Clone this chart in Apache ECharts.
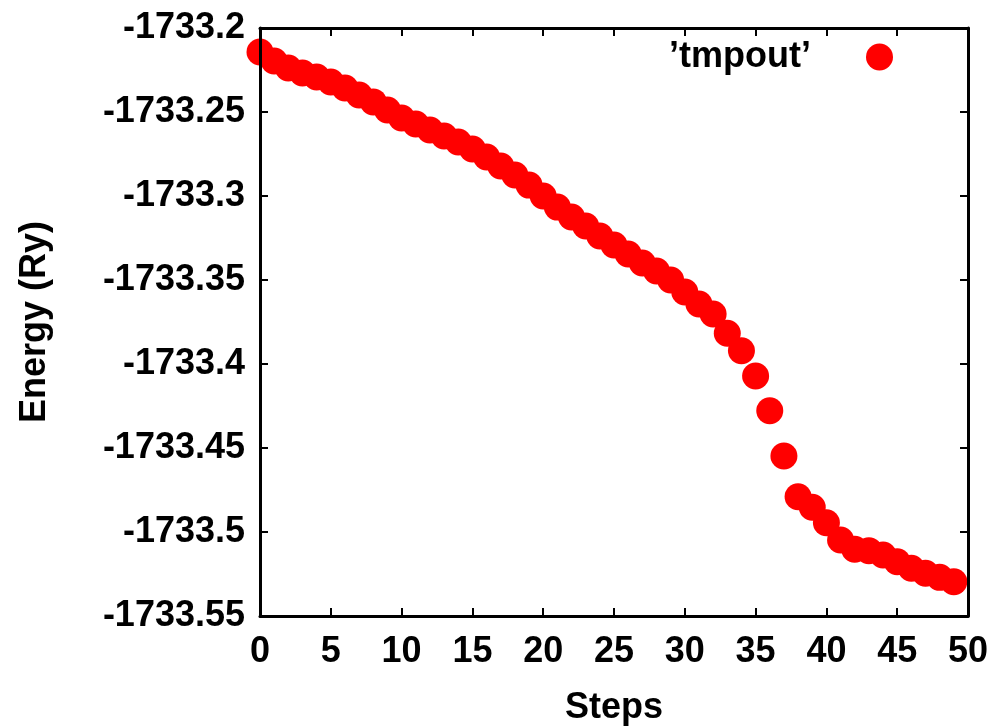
<!DOCTYPE html>
<html>
<head>
<meta charset="utf-8">
<script src="https://cdn.jsdelivr.net/npm/echarts@6/dist/echarts.min.js"></script>
<style>
html,body{margin:0;padding:0;background:#fff;}
#chart{width:997px;height:726px;}
</style>
</head>
<body>
<div id="chart"></div>
<script>
const steps = [0,1,2,3,4,5,6,7,8,9,10,11,12,13,14,15,16,17,18,19,20,21,22,23,24,25,26,27,28,29,30,31,32,33,34,35,36,37,38,39,40,41,42,43,44,45,46,47,48,49];
const energy = [
  -1733.2143,-1733.2196,-1733.2238,-1733.2268,-1733.2292,-1733.2321,-1733.2357,-1733.2399,-1733.2440,-1733.2488,
  -1733.2536,-1733.2571,-1733.2607,-1733.2643,-1733.2679,-1733.2720,-1733.2768,-1733.2821,-1733.2875,-1733.2935,
  -1733.3000,-1733.3066,-1733.3125,-1733.3179,-1733.3238,-1733.3292,-1733.3345,-1733.3399,-1733.3446,-1733.3500,
  -1733.3571,-1733.3643,-1733.3702,-1733.3817,-1733.3921,-1733.4071,-1733.4278,-1733.4548,-1733.4790,-1733.4853,
  -1733.4945,-1733.5048,-1733.5103,-1733.5111,-1733.5137,-1733.5177,-1733.5216,-1733.5246,-1733.5270,-1733.5296
];
const xTicks = [0,5,10,15,20,25,30,35,40,45,50];
const yTicks = ['-1733.55','-1733.5','-1733.45','-1733.4','-1733.35','-1733.3','-1733.25','-1733.2'];
const seriesName = '\u2019tmpout\u2019';
const xTitle = 'Steps';
const yTitle = 'Energy (Ry)';

const FONT = '"Liberation Sans", Arial, sans-serif';
const FS = 36;
const chart = echarts.init(document.getElementById('chart'), null, {renderer:'canvas'});
const lineStyle = {color:'#000', width:3};
const tickStyle = {show:true, inside:true, length:8, lineStyle:{color:'#000', width:2}};
const xMin = xTicks[0], xMax = xTicks[xTicks.length-1], xInt = xTicks[1]-xTicks[0];
const yMin = Number(yTicks[0]), yMax = Number(yTicks[yTicks.length-1]);
const yInt = 0.05;
function yFmt(v){ return String(Number(v.toFixed(2))); }

chart.setOption({
  backgroundColor:'#fff',
  animation:false,
  grid:{left:260, right:29, top:28, bottom:110, containLabel:false, outerBoundsMode:'none'},
  legend:{
    data:[seriesName], right:99, top:34, orient:'horizontal', align:'right',
    itemWidth:27, itemHeight:27, icon:'circle',
    textStyle:{fontFamily:FONT, fontWeight:'bold', fontSize:FS, color:'#000', padding:[0,50,0,0]}
  },
  xAxis:[{
    type:'value', min:xMin, max:xMax, interval:xInt, position:'bottom', z:10,
    axisLine:{show:true, onZero:false, lineStyle:lineStyle},
    axisTick:tickStyle, splitLine:{show:false},
    axisLabel:{fontFamily:FONT, fontWeight:'bold', fontSize:FS, color:'#000', margin:18},
    name:xTitle, nameLocation:'middle', nameGap:74,
    nameTextStyle:{fontFamily:FONT, fontWeight:'bold', fontSize:FS, color:'#000'}
  },{
    type:'value', min:xMin, max:xMax, interval:xInt, position:'top', z:10,
    axisLine:{show:true, onZero:false, lineStyle:lineStyle},
    axisTick:tickStyle, splitLine:{show:false}, axisLabel:{show:false}
  }],
  yAxis:[{
    type:'value', min:yMin, max:yMax, interval:yInt, position:'left', z:10, scale:true,
    axisLine:{show:true, onZero:false, lineStyle:lineStyle},
    axisTick:tickStyle, splitLine:{show:false},
    axisLabel:{fontFamily:FONT, fontWeight:'bold', fontSize:FS, color:'#000', margin:15, formatter:yFmt},
    name:yTitle, nameLocation:'middle', nameGap:207, nameRotate:90,
    nameTextStyle:{fontFamily:FONT, fontWeight:'bold', fontSize:FS, color:'#000'}
  },{
    type:'value', min:yMin, max:yMax, interval:yInt, position:'right', z:10, scale:true,
    axisLine:{show:true, onZero:false, lineStyle:lineStyle},
    axisTick:tickStyle, splitLine:{show:false}, axisLabel:{show:false}
  }],
  series:[{
    name:seriesName, type:'scatter', xAxisIndex:0, yAxisIndex:0,
    symbol:'circle', symbolSize:27, clip:false,
    itemStyle:{color:'#ff0000', opacity:1},
    data: steps.map((s,i)=>[s, energy[i]])
  }]
});
</script>
</body>
</html>
